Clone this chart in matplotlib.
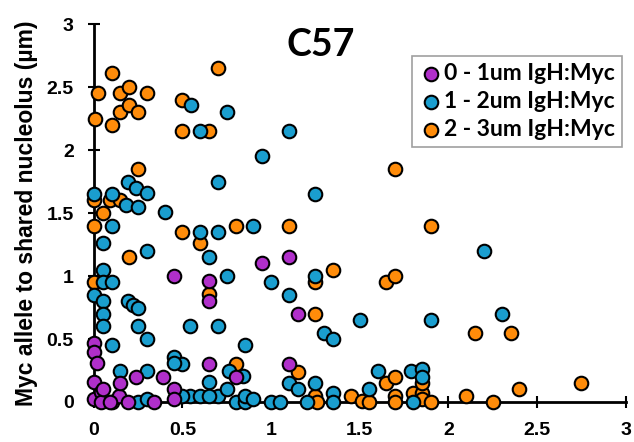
import matplotlib
matplotlib.use('Agg')
import matplotlib.pyplot as plt

# 0 - 1um IgH:Myc
x_near = [0.0, 0.0, 0.02, 0.0, 0.0, 0.04, 0.04, 0.1, 0.14, 0.15, 0.19, 0.24, 0.34,
          0.39, 0.45, 0.45, 0.45, 0.65, 0.65, 0.65, 0.8, 0.95, 1.1, 1.15, 1.1, 0.05, 0.09]
y_near = [0.47, 0.40, 0.31, 0.16, 0.02, 0.08, 0.0, 0.0, 0.05, 0.15, 0.0, 0.2, 0.0,
          0.2, 0.1, 0.02, 1.0, 0.96, 0.8, 0.3, 0.2, 1.1, 1.15, 0.7, 0.3, 0.1, 0.0]

# 1 - 2um IgH:Myc
x_mid = [0.55, 0.6, 0.75, 1.1, 0.95, 0.7, 1.25,
         0.0, 0.1, 0.19, 0.24, 0.3, 0.18, 0.25, 0.4, 0.1,
         0.6, 0.7, 0.9, 0.65, 0.3, 0.05, 0.75, 1.0, 1.1, 1.25, 2.2, 1.5, 1.9, 2.3, 1.3, 1.35,
         0.05, 0.05, 0.1, 0.0, 0.05, 0.05, 0.05, 0.1, 0.19, 0.22, 0.25, 0.25, 0.3, 0.54, 0.7, 0.85,
         0.15, 0.3, 0.45, 0.5, 0.25, 0.3, 0.54, 0.6, 0.65, 0.7, 0.75, 0.76, 0.84, 0.8, 0.85,
         0.85, 0.9, 1.0, 1.05, 1.1, 1.15, 1.2, 1.25, 1.35, 1.35, 1.55, 1.6, 1.79, 1.85, 1.85,
         1.8, 0.5, 0.65, 0.45]
y_mid = [2.36, 2.15, 2.3, 2.15, 1.95, 1.75, 1.65,
         1.65, 1.65, 1.75, 1.7, 1.66, 1.56, 1.55, 1.51, 1.4,
         1.35, 1.35, 1.4, 1.15, 1.2, 1.26, 1.0, 0.95, 0.85, 1.0, 1.2, 0.65, 0.65, 0.7, 0.55, 0.5,
         1.05, 0.95, 0.95, 0.85, 0.8, 0.7, 0.6, 0.45, 0.8, 0.77, 0.75, 0.6, 0.5, 0.6, 0.6, 0.45,
         0.25, 0.25, 0.36, 0.3, 0.0, 0.02, 0.05, 0.05, 0.16, 0.05, 0.1, 0.25, 0.21, 0.0, 0.0,
         0.05, 0.02, 0.0, 0.0, 0.15, 0.1, 0.0, 0.15, 0.07, 0.0, 0.1, 0.25, 0.25, 0.26, 0.2,
         0.0, 0.05, 0.05, 0.31]

# 2 - 3um IgH:Myc
x_far = [0.1, 0.025, 0.15, 0.2, 0.3, 0.005, 0.1, 0.15, 0.2, 0.25, 0.5, 0.5, 0.65, 0.7, 0.25,
         0.0, 0.09, 0.15, 0.05, 0.0, 0.0,
         0.5, 0.6, 0.8, 1.1, 1.9, 1.7, 0.2, 0.65, 1.25, 1.35, 1.65, 1.7, 1.25, 2.15, 2.35,
         0.8, 1.15, 1.25, 1.26, 1.45, 1.51, 1.55, 1.65, 1.7, 1.7, 1.7, 1.8, 1.85, 1.85, 1.85,
         1.9, 2.1, 2.25, 2.4, 2.75]
y_far = [2.61, 2.45, 2.45, 2.5, 2.45, 2.25, 2.2, 2.3, 2.36, 2.3, 2.4, 2.15, 2.15, 2.65, 1.85,
         1.6, 1.6, 1.6, 1.5, 1.4, 0.95,
         1.35, 1.26, 1.4, 1.4, 1.4, 1.85, 1.15, 0.86, 0.95, 1.05, 0.95, 1.0, 0.7, 0.55, 0.55,
         0.3, 0.24, 0.05, 0.0, 0.05, 0.01, 0.0, 0.15, 0.2, 0.05, 0.0, 0.07, 0.07, 0.15, 0.02,
         0.0, 0.05, 0.0, 0.1, 0.15]

labels = ['0 - 1um IgH:Myc', '1 - 2um IgH:Myc', '2 - 3um IgH:Myc']
colors = ['#B02FCA', '#1A9ECF', '#FF8C0A']
ticks = [0, 0.5, 1, 1.5, 2, 2.5, 3]
tick_text = ['0', '0.5', '1', '1.5', '2', '2.5', '3']

fig = plt.figure(figsize=(6.34, 4.42), dpi=100)
ax = fig.add_axes([0.148, 0.0905, 0.839, 0.855])

series = [(x_near, y_near), (x_mid, y_mid), (x_far, y_far)]
handles = []
for i, (xs, ys) in enumerate(series):
    h = ax.scatter(xs, ys, s=95, c=colors[i], edgecolors='black', linewidths=1.5,
                   clip_on=False, zorder=5 - i, label=labels[i])
    handles.append(h)

ax.set_xlim(0, 3)
ax.set_ylim(0, 3)
ax.set_xticks(ticks)
ax.set_yticks(ticks)
ax.set_xticklabels(tick_text)
ax.set_yticklabels(tick_text)
for s in ['top', 'right']:
    ax.spines[s].set_visible(False)
for s in ['left', 'bottom']:
    ax.spines[s].set_linewidth(2)
ax.tick_params(direction='inout', length=9, width=1.5, pad=10)
for lab in ax.get_xticklabels() + ax.get_yticklabels():
    lab.set_family('Liberation Sans')
    lab.set_fontweight('bold')
    lab.set_fontsize(14)

ax.set_ylabel('Myc allele to shared nucleolus (\u00b5m)', family='Liberation Sans',
              fontweight='bold', fontsize=16.5, labelpad=6)
ax.text(0.427, 0.945, 'C57', transform=ax.transAxes, ha='center', va='center',
        family='Lato', fontweight='bold', fontsize=27)

leg = ax.legend(handles=handles, loc='upper right', bbox_to_anchor=(0.993, 0.915),
                borderaxespad=0, frameon=True, fancybox=False, handletextpad=0.1,
                handlelength=1.0, labelspacing=0.3, borderpad=0.3,
                prop={'family': 'Lato', 'weight': 'bold', 'size': 16.5})
leg.get_frame().set_edgecolor('#888888')
leg.get_frame().set_linewidth(1.2)

fig.savefig('out.png', dpi=100)
